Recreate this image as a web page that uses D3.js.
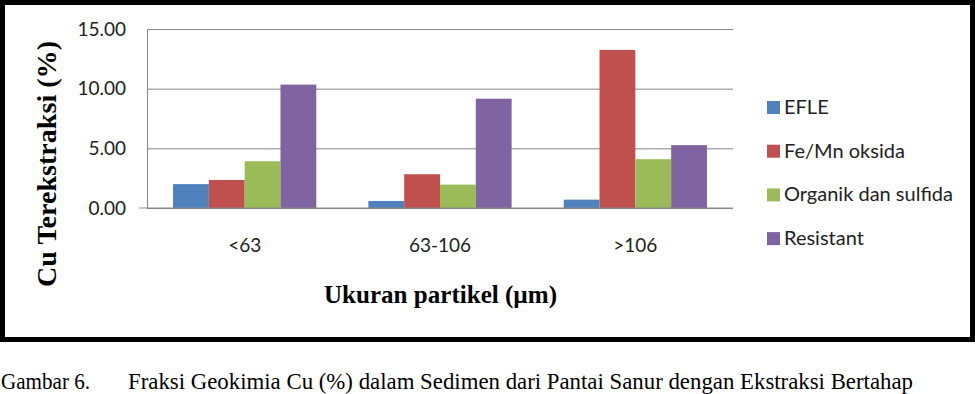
<!DOCTYPE html>
<html>
<head>
<meta charset="utf-8">
<script src="https://cdn.jsdelivr.net/npm/d3@7"></script>
<style>
  body { margin: 0; background: #fff; }
  svg { display: block; }
</style>
</head>
<body>
<svg id="chart"></svg>
<script>
// data (Cu % per extraction fraction)
const categories = ["<63", "63-106", ">106"];
const seriesNames = ["EFLE", "Fe/Mn oksida", "Organik dan sulfida", "Resistant"];
const efle = [2.00, 0.59, 0.70];
const feMnOksida = [2.35, 2.83, 13.25];
const organikSulfida = [3.92, 1.96, 4.09];
const resistant = [10.34, 9.16, 5.27];
const yTicks = [0, 5, 10, 15];
const colors = ["#4F81BD", "#C0504D", "#9BBB59", "#8064A2"];

const seriesValues = [efle, feMnOksida, organikSulfida, resistant];

//sizes of the page and the plot area
const w = 975;
const h = 394;
const plotLeft = 147;
const plotRight = 733;
const plotTop = 29;
const plotBottom = 208;
const sansFont = "Lato, 'Open Sans', sans-serif";
const serifFont = "'Liberation Serif', 'Times New Roman', serif";

const svg = d3.select("#chart")
              .attr("width", w)
              .attr("height", h)
              .style("background", "#fff");

//scales: one band per size class, one sub band per fraction
const x0 = d3.scaleBand().domain(categories).range([plotLeft, plotRight]).paddingInner(0.2667).paddingOuter(0.1333);
const x1 = d3.scaleBand().domain(seriesNames).range([0, x0.bandwidth()]);
const yScale = d3.scaleLinear().domain([0, 15]).range([plotBottom, plotTop]);

//horizontal gridlines
svg.append("g")
   .attr("class", "grid")
   .attr("transform", `translate(${plotLeft}, 0)`)
   .call(d3.axisLeft(yScale).tickValues(yTicks).tickSize(-(plotRight - plotLeft)).tickFormat(""))
   .call(g => g.select(".domain").remove())
   .call(g => g.selectAll("line").attr("stroke", "#868686").attr("stroke-width", 1));

//y axis with the tick labels
svg.append("g")
   .attr("id", "y-axis")
   .attr("transform", `translate(${plotLeft}, 0)`)
   .call(d3.axisLeft(yScale).tickValues(yTicks).tickSize(0).tickPadding(21).tickFormat(d3.format(".2f")))
   .call(g => g.select(".domain").attr("stroke", "#868686"))
   .call(g => g.selectAll("text").attr("font-family", sansFont).attr("font-size", 19).attr("fill", "#222"));

//bars, one group per category
const groups = svg.append("g")
   .selectAll("g")
   .data(categories)
   .enter()
   .append("g")
   .attr("transform", d => `translate(${x0(d)}, 0)`);

groups.selectAll("rect")
   .data((d, i) => seriesNames.map((name, s) => ({ name: name, value: seriesValues[s][i], color: colors[s] })))
   .enter()
   .append("rect")
   .attr("x", d => x1(d.name))
   .attr("y", d => yScale(d.value))
   .attr("width", x1.bandwidth())
   .attr("height", d => yScale(0) - yScale(d.value))
   .attr("fill", d => d.color);

//x axis with the category labels
svg.append("g")
   .attr("id", "x-axis")
   .attr("transform", `translate(0, ${plotBottom})`)
   .call(d3.axisBottom(x0).tickSize(0).tickPadding(31))
   .call(g => g.select(".domain").remove())
   .call(g => g.selectAll("text").attr("font-family", sansFont).attr("font-size", 19).attr("fill", "#222"));

svg.append("line")
   .attr("x1", 139)
   .attr("x2", plotRight)
   .attr("y1", yScale(0))
   .attr("y2", yScale(0))
   .attr("stroke", "#868686");

//legend on the right
const legend = svg.append("g")
   .selectAll("g")
   .data(seriesNames)
   .enter()
   .append("g")
   .attr("transform", (d, i) => `translate(767, ${114 + i * 43.7})`);

legend.append("rect")
   .attr("x", 0)
   .attr("y", -13)
   .attr("width", 13)
   .attr("height", 13)
   .attr("fill", (d, i) => colors[i]);

legend.append("text")
   .attr("x", 17)
   .attr("y", 0)
   .attr("font-family", sansFont)
   .attr("font-size", 20)
   .attr("fill", "#222")
   .text(d => d);

//axis titles
svg.append("text")
   .attr("transform", "translate(56, 164) rotate(-90)")
   .attr("text-anchor", "middle")
   .attr("font-family", serifFont)
   .attr("font-weight", "bold")
   .attr("font-size", 28)
   .attr("textLength", 246)
   .attr("lengthAdjust", "spacingAndGlyphs")
   .text("Cu Terekstraksi (%)");

svg.append("text")
   .attr("x", 440.5)
   .attr("y", 303)
   .attr("text-anchor", "middle")
   .attr("font-family", serifFont)
   .attr("font-weight", "bold")
   .attr("font-size", 25)
   .attr("textLength", 233)
   .attr("lengthAdjust", "spacingAndGlyphs")
   .text("Ukuran partikel (µm)");

//frame around the chart
svg.append("rect")
   .attr("x", 2.5)
   .attr("y", 2.5)
   .attr("width", 970)
   .attr("height", 337)
   .attr("fill", "none")
   .attr("stroke", "#000")
   .attr("stroke-width", 5);

//figure caption under the frame
svg.append("text")
   .attr("x", 1)
   .attr("y", 389)
   .attr("font-family", serifFont)
   .attr("font-size", 24)
   .attr("textLength", 89)
   .attr("lengthAdjust", "spacingAndGlyphs")
   .text("Gambar 6.");

svg.append("text")
   .attr("x", 128)
   .attr("y", 389)
   .attr("font-family", serifFont)
   .attr("font-size", 24)
   .attr("textLength", 785)
   .attr("lengthAdjust", "spacingAndGlyphs")
   .text("Fraksi Geokimia Cu (%) dalam Sedimen dari Pantai Sanur dengan Ekstraksi Bertahap");
</script>
</body>
</html>
